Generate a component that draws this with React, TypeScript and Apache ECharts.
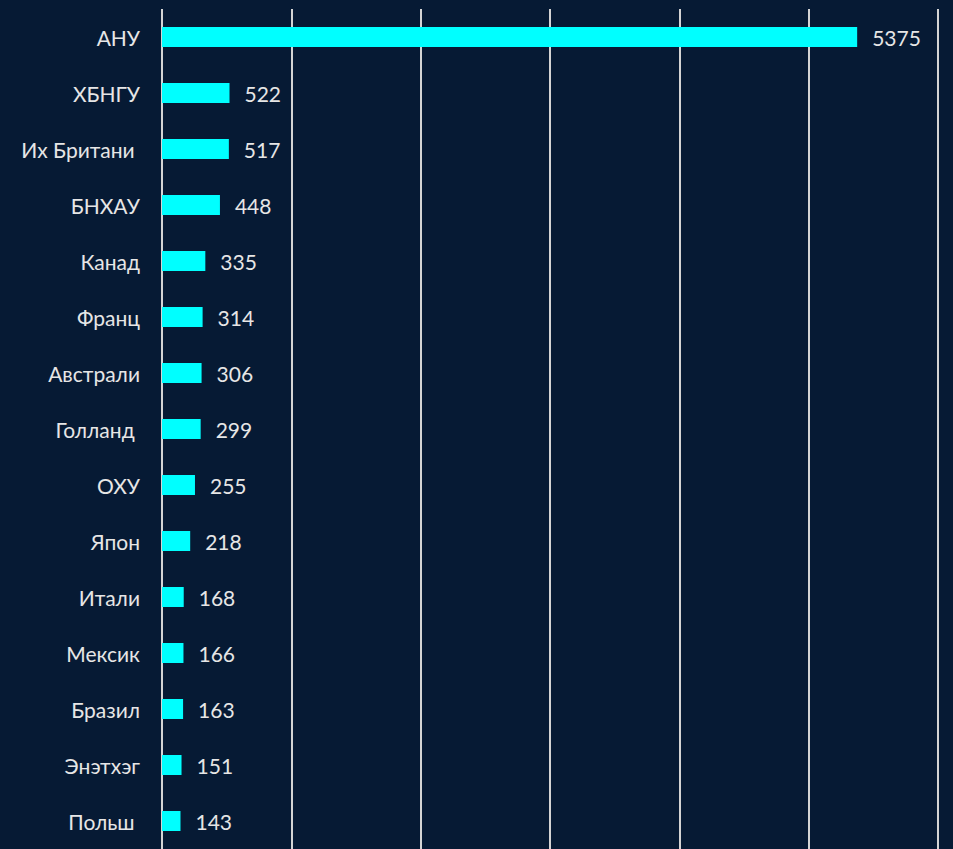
import React, { useEffect, useRef } from "react";
import * as echarts from "echarts";

const categories = [
  "АНУ",
  "ХБНГУ",
  "Их Британи ",
  "БНХАУ",
  "Канад",
  "Франц",
  "Австрали",
  "Голланд ",
  "ОХУ",
  "Япон",
  "Итали",
  "Мексик",
  "Бразил",
  "Энэтхэг",
  "Польш ",
];
const values = [5375, 522, 517, 448, 335, 314, 306, 299, 255, 218, 168, 166, 163, 151, 143];
const axisMax = 6000;
const axisInterval = 1000;

export default function App() {
  const ref = useRef<HTMLDivElement>(null);
  useEffect(() => {
    if (!ref.current) return;
    const chart = echarts.init(ref.current, undefined, { renderer: "svg" });
    chart.setOption({
      animation: false,
      backgroundColor: "#061a34",
      grid: { left: 162, right: 15, top: 9, bottom: 0, containLabel: false },
      xAxis: {
        type: "value",
        min: 0,
        max: axisMax,
        interval: axisInterval,
        axisLabel: { show: false },
        axisLine: { show: false },
        axisTick: { show: false },
        splitLine: { show: true, lineStyle: { color: "#d4d4d4", width: 2 } },
      },
      yAxis: {
        type: "category",
        data: categories,
        inverse: true,
        axisLine: { show: false },
        axisTick: { show: false },
        axisLabel: {
          color: "#e6e6e6",
          fontFamily: "Lato",
          fontSize: 21,
          margin: 22,
        },
      },
      series: [
        {
          type: "bar",
          data: values,
          barWidth: 20,
          itemStyle: { color: "#00ffff" },
          label: {
            show: true,
            position: "right",
            distance: 15,
            color: "#e6e6e6",
            fontFamily: "Lato",
            fontSize: 21,
          },
        },
      ],
    });
    return () => chart.dispose();
  }, []);
  return (
    <div
      ref={ref}
      style={{ position: "fixed", left: 0, top: 0, width: 953, height: 849 }}
    />
  );
}
